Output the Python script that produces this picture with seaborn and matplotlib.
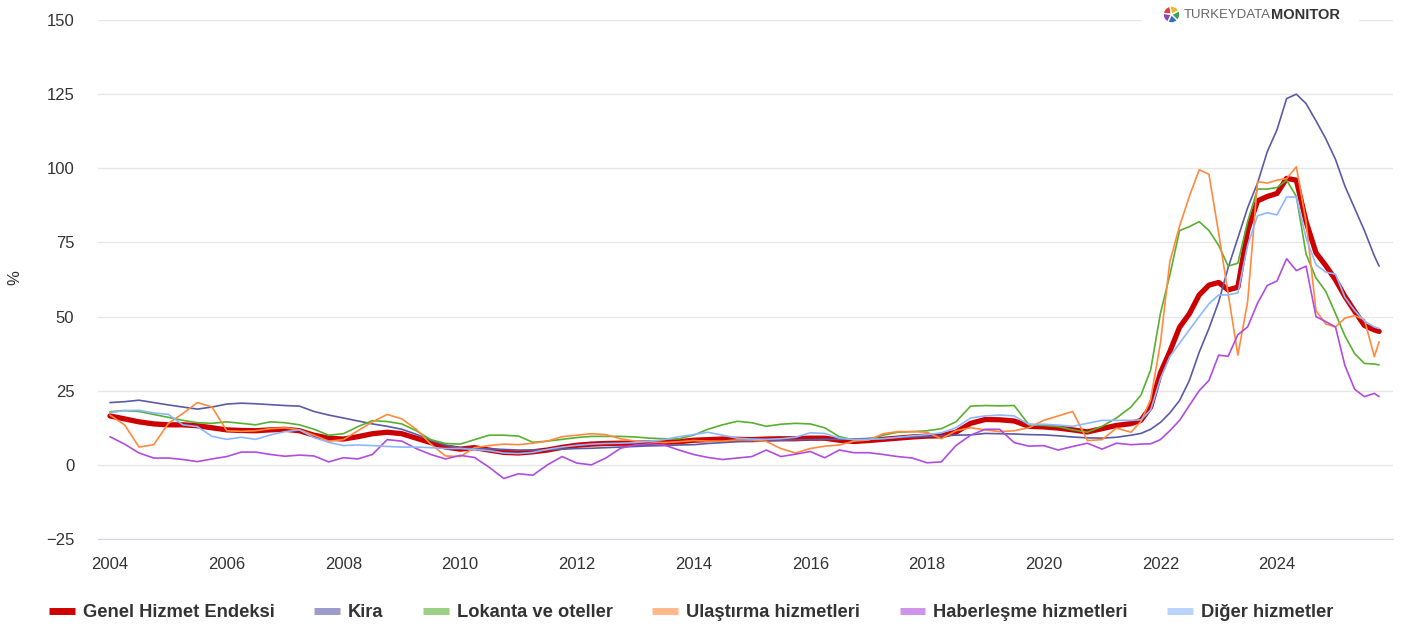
import pandas as pd
import seaborn as sns
import matplotlib.pyplot as plt
import matplotlib.dates as mdates
from matplotlib.lines import Line2D
from matplotlib.patches import Rectangle

# quarterly points up to 2021-04, then every two months, last point 2025-10
dates = (list(pd.date_range("2004-01-01", "2021-04-01", freq="QS"))
         + list(pd.date_range("2021-07-01", "2025-09-01", freq="2MS"))
         + [pd.Timestamp("2025-10-01")])

names = ["Genel Hizmet Endeksi", "Kira", "Lokanta ve oteller",
         "Ulaştırma hizmetleri", "Haberleşme hizmetleri", "Diğer hizmetler"]

genel = [16.5, 15.5, 14.5, 13.8, 13.5, 13.5, 13.2, 12.5, 11.8, 11.6, 11.5, 11.8,
         12.0, 11.5, 10.0, 9.0, 8.7, 9.5, 10.5, 11.0, 10.5, 9.0, 7.5, 6.0,
         5.3, 5.8, 5.0, 4.2, 4.0, 4.4, 5.0, 5.9, 6.6, 7.0, 7.2, 7.3,
         7.3, 7.4, 7.6, 7.8, 8.3, 8.5, 8.7, 8.6, 8.5, 8.7, 8.8, 8.8,
         9.0, 9.0, 8.3, 7.9, 8.2, 8.6, 9.0, 9.4, 9.7, 9.8, 11.0, 14.0,
         15.3, 15.2, 14.8, 13.0, 12.8, 12.4, 11.8, 11.1, 12.2, 13.3,
         13.9, 15.0, 19.5,
         31.0, 38.2, 46.4, 50.9, 57.3, 60.6,
         61.5, 59.0, 59.9, 79.0, 89.0, 90.5,
         91.5, 96.6, 96.0, 82.0, 71.5, 67.2,
         62.4, 56.8, 51.8, 47.0, 45.5, 45.0]

kira = [21.0, 21.3, 21.8, 21.0, 20.2, 19.5, 18.8, 19.5, 20.5, 20.8, 20.6, 20.3,
        20.0, 19.8, 18.0, 16.8, 15.8, 14.8, 13.8, 13.0, 12.0, 10.3, 8.3, 6.6,
        5.7, 5.5, 5.4, 5.2, 5.0, 5.0, 5.1, 5.3, 5.5, 5.6, 5.8, 6.0,
        6.2, 6.4, 6.5, 6.7, 6.8, 7.2, 7.5, 7.8, 8.0, 8.2, 8.3, 8.4,
        8.5, 8.6, 8.6, 8.7, 8.9, 9.0, 9.2, 9.4, 9.6, 9.8, 10.0, 10.1,
        10.6, 10.5, 10.4, 10.2, 10.1, 9.8, 9.4, 9.1, 9.0, 9.3,
        10.0, 10.6, 12.0,
        14.3, 17.5, 21.7, 28.4, 38.0, 46.0,
        55.0, 66.5, 76.5, 86.7, 95.0, 105.6,
        113.0, 123.5, 125.0, 121.8, 116.0, 110.0,
        103.0, 94.0, 86.5, 79.0, 70.5, 67.0]

lokanta = [17.9, 18.3, 18.0, 17.0, 16.0, 15.0, 14.2, 14.0, 14.5, 14.0, 13.5, 14.5,
           14.2, 13.5, 12.0, 10.0, 10.5, 12.9, 14.9, 14.6, 13.8, 11.5, 8.5, 7.2,
           7.0, 8.5, 10.0, 10.0, 9.7, 7.6, 8.0, 8.6, 9.2, 9.6, 9.6, 9.6,
           9.4, 9.0, 8.8, 8.8, 10.0, 12.0, 13.5, 14.7, 14.2, 13.0, 13.7, 14.0,
           13.8, 12.5, 9.5, 8.4, 8.5, 10.0, 11.0, 11.2, 11.5, 12.2, 14.5, 19.8,
           20.0, 19.9, 20.0, 13.5, 13.3, 12.9, 11.8, 11.0, 13.0, 15.8,
           19.5, 23.5, 32.0,
           51.0, 64.0, 79.0, 80.3, 82.0, 79.0,
           74.0, 67.0, 68.0, 82.0, 93.0, 93.0,
           93.5, 96.0, 90.5, 71.0, 63.0, 58.5,
           51.0, 43.5, 37.5, 34.2, 34.0, 33.7]

ulastirma = [16.8, 13.5, 6.0, 6.8, 14.0, 17.3, 21.0, 19.5, 11.5, 11.3, 11.5, 12.2,
             12.5, 11.8, 10.0, 8.0, 8.5, 11.5, 14.5, 17.0, 15.5, 12.0, 7.0, 3.0,
             2.8, 5.8, 6.5, 7.0, 6.8, 7.3, 8.0, 9.5, 10.0, 10.5, 10.2, 8.8,
             8.0, 7.8, 7.5, 7.8, 8.2, 8.0, 8.0, 8.4, 8.4, 7.9, 5.5, 4.0,
             5.5, 6.3, 6.7, 8.0, 8.4, 10.5, 11.2, 11.2, 11.0, 8.8, 11.5, 12.5,
             11.8, 11.2, 11.5, 12.5, 15.0, 16.5, 18.0, 8.2, 8.5, 12.4,
             11.0, 14.6, 22.0,
             41.0, 68.5, 80.5, 90.5, 99.5, 98.0,
             78.0, 57.8, 37.0, 55.0, 95.5, 95.0,
             96.0, 96.5, 100.5, 82.0, 52.0, 47.5,
             46.5, 49.5, 50.3, 49.0, 36.5, 41.5]

haberlesme = [9.5, 7.0, 4.0, 2.3, 2.3, 1.8, 1.1, 2.0, 2.8, 4.3, 4.3, 3.5,
              2.9, 3.3, 3.0, 1.0, 2.4, 2.0, 3.5, 8.5, 8.0, 5.5, 3.5, 2.0,
              3.2, 2.5, -0.8, -4.6, -3.0, -3.5, 0.0, 2.8, 0.6, 0.0, 2.3, 5.6,
              6.7, 7.1, 6.7, 5.0, 3.5, 2.5, 1.8, 2.3, 2.8, 5.0, 2.8, 3.6,
              4.5, 2.4, 5.0, 4.1, 4.1, 3.5, 2.8, 2.3, 0.7, 1.0, 6.5, 10.0,
              12.0, 12.0, 7.5, 6.3, 6.5, 5.0, 6.2, 7.3, 5.3, 7.3,
              6.8, 7.0, 7.1,
              8.5, 11.5, 15.0, 20.0, 25.0, 28.5,
              37.0, 36.6, 43.9, 46.5, 54.5, 60.5,
              62.0, 69.5, 65.5, 67.0, 50.0, 48.3,
              46.5, 33.5, 25.5, 23.0, 24.1, 23.0]

diger = [17.6, 18.3, 18.4, 17.5, 17.0, 13.5, 12.9, 9.6, 8.6, 9.3, 8.6, 10.1,
         11.2, 11.8, 9.2, 7.6, 6.5, 6.7, 6.5, 6.2, 6.0, 6.0, 5.8, 5.5,
         5.5, 5.2, 4.8, 4.0, 3.8, 4.2, 5.2, 6.0, 6.6, 7.0, 7.2, 7.3,
         7.5, 8.0, 8.5, 9.5, 10.2, 11.0, 10.0, 9.0, 8.7, 8.6, 8.8, 9.3,
         10.8, 10.6, 9.0, 8.5, 8.6, 8.8, 9.3, 9.8, 10.2, 10.8, 12.5, 15.8,
         16.5, 16.8, 16.5, 13.6, 13.7, 13.4, 13.0, 14.0, 15.0, 15.0,
         15.0, 15.2, 18.5,
         29.0, 36.5, 41.0, 45.5, 50.0, 54.3,
         57.3, 57.3, 58.0, 74.0, 84.0, 85.0,
         84.3, 90.3, 90.3, 76.5, 67.5, 65.0,
         64.3, 56.5, 52.0, 48.5, 46.5, 46.0]

df = pd.DataFrame({"date": dates, names[0]: genel, names[1]: kira, names[2]: lokanta,
                   names[3]: ulastirma, names[4]: haberlesme, names[5]: diger})

colors = ["#cc0000", "#5a5aa8", "#58b030", "#ff8a3d", "#b04ce0", "#8db7ff"]
widths = [3.8, 1.2, 1.2, 1.2, 1.2, 1.2]

sns.set_style("white")
plt.rcParams['font.family'] = ['Liberation Sans', 'DejaVu Sans']

fig = plt.figure(figsize=(14.11, 6.30), dpi=100)
ax = fig.add_axes([98 / 1411, 1 - 539 / 630, 1295 / 1411, 519 / 630])

for i, name in enumerate(names):
    sns.lineplot(data=df, x="date", y=name, ax=ax, color=colors[i],
                 linewidth=widths[i], zorder=2 + i, legend=False)

ax.set_ylim(-25, 150)
ax.set_yticks(range(-25, 151, 25))
ax.set_xlim(pd.Timestamp("2003-10-18"), pd.Timestamp("2025-12-27"))
ax.set_xticks([pd.Timestamp(f"{y}-01-01") for y in range(2004, 2025, 2)])
ax.xaxis.set_major_formatter(mdates.DateFormatter("%Y"))

ax.grid(axis="y", color="#e6e6e6", linewidth=1)
ax.set_axisbelow(True)
for s in ["left", "right", "top"]:
    ax.spines[s].set_visible(False)
ax.spines["bottom"].set_color("#ccd6eb")

ax.tick_params(axis="y", length=0, pad=17, labelsize=12, labelcolor="#333333")
ax.tick_params(axis="x", length=8, width=1, color="#ccd6eb", pad=5,
               labelsize=12, labelcolor="#333333")
ax.set_xlabel("")
ax.set_ylabel("")
fig.text(15 / 1411, 1 - 278 / 630, "%", rotation=90, fontsize=12,
         color="#333333", ha="center", va="center")

handles = [Line2D([0], [0], color=c, lw=5, solid_capstyle="butt",
                  alpha=1.0 if i == 0 else 0.6) for i, c in enumerate(colors)]
fig.legend(handles, names, loc="center", bbox_to_anchor=(0.49, 0.027), ncol=6,
           frameon=False, prop=dict(weight="bold", size=13.2),
           labelcolor="#333333", handlelength=1.4, handletextpad=0.45,
           columnspacing=2.15)

# logo in the top right corner
fig.patches.append(Rectangle((1142 / 1411, 1 - 32 / 630), 216 / 1411, 24 / 630,
                             transform=fig.transFigure, color="white", zorder=1))
icon = fig.add_axes([1161 / 1411, 1 - 25 / 630, 21 / 1411, 21 / 630])
icon.set_zorder(3)
icon.pie([1, 1, 1, 1, 1], colors=["#e2403a", "#8e44ad", "#2f6fc6", "#35a35a", "#f2b531"],
         startangle=100)
icon.set_aspect("equal")
t1 = fig.text(1184 / 1411, 1 - 15 / 630, "TURKEYDATA", fontsize=9.5, color="#666666",
              va="center", zorder=4)
fig.canvas.draw()
bb = t1.get_window_extent()
fig.text(bb.x1 / 1411, 1 - 15 / 630, "MONITOR", fontsize=10.5, weight="bold",
         color="#333333", va="center", zorder=4)

fig.savefig("out.png", dpi=100)
